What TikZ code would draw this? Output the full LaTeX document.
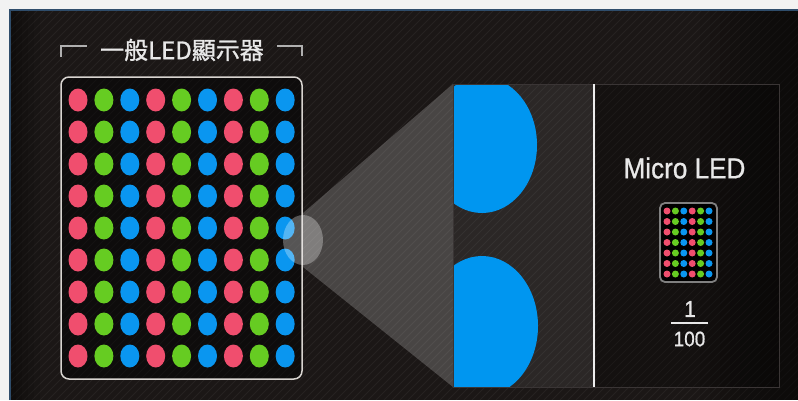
\documentclass[tikz,border=0pt]{standalone}
\usepackage{fontspec}
\setmainfont{Liberation Sans}
\newfontfamily\cjkfont[FakeBold=1.2]{Noto Sans CJK TC}
\newfontfamily\narrowfont[FakeStretch=0.9,FakeBold=0.8]{Liberation Sans}
\usetikzlibrary{shapes.geometric}
\definecolor{lightbg}{HTML}{F2F2F2}
\definecolor{panelbg}{HTML}{1B1716}
\definecolor{panelborder}{HTML}{2F4D6B}
\definecolor{titlecol}{HTML}{E8E8E8}
\definecolor{bracketcol}{HTML}{B0B0B0}
\definecolor{framecol}{HTML}{D8D4D0}
\definecolor{ledR}{HTML}{F04E6E}
\definecolor{ledG}{HTML}{66CC22}
\definecolor{ledB}{HTML}{0A96F0}
\definecolor{bigblue}{HTML}{0096F0}
\definecolor{smallframe}{HTML}{808080}
\definecolor{boxborder}{HTML}{3A3535}
\tikzset{
  stripe/.style={white, opacity=0.05, line width=0.8pt},
  bracket/.style={bracketcol, line width=1.5pt},
  bigdot/.style={ellipse, inner sep=0pt, minimum width=19pt, minimum height=23pt, draw=none},
  smalldot/.style={circle, inner sep=0pt, minimum size=7pt, draw=none},
  txt/.style={text=titlecol, inner sep=0pt},
}
\begin{document}
\begin{tikzpicture}[x=1pt,y=-1pt]
\useasboundingbox (0,0) rectangle (798,400);
\fill[lightbg] (0,0) rectangle (798,400);
\fill[panelbg] (10,10) rectangle (798,400);
% stripes
\begin{scope}
\clip (10,10) rectangle (798,400);
\foreach \i in {-400,-392,...,800} \draw[stripe] (\i,400) -- (\i+390,10);
% darker edges
\foreach \k in {0,...,9} \fill[black, opacity=0.06] (700+10*\k,10) rectangle (798,400);
\foreach \k in {0,...,4} \fill[black, opacity=0.08] (10,10) rectangle (40-6*\k,400);
\end{scope}
\draw[panelborder, line width=2pt] (10,400) -- (10,10) -- (798,10);

% title
\node[txt, font=\cjkfont\fontsize{24}{24}\selectfont] (title) at (182,50) {一般LED顯示器};
\draw[bracket] (61,57) -- (61,46) -- (87,46);
\draw[bracket] (277,46) -- (302,46) -- (302,56);

% LED panel
\draw[framecol, line width=1.5pt, fill=black, fill opacity=0.45, rounded corners=8pt] (61,77) rectangle (302,379);
\foreach \r in {0,...,8}
  \foreach \c/\col in {0/ledR,1/ledG,2/ledB,3/ledR,4/ledG,5/ledB,6/ledR,7/ledG,8/ledB}
    \node[bigdot, fill=\col] (d\r\c) at (78+25.9*\c,100+32*\r) {};

% magnifier cone and lens
\fill[white, opacity=0.2] (303,213) -- (453,84) -- (453,387) -- (303,267) -- cycle;
\node[ellipse, fill=white, opacity=0.3, minimum width=40pt, minimum height=50pt, inner sep=0pt] (lens) at (303,240) {};

% zoom box
\fill[white, opacity=0.07] (453,84) rectangle (593,387);
\begin{scope}
\clip (453,84) rectangle (593,387);
\fill[bigblue] (482,145) ellipse [x radius=55pt, y radius=68pt];
\fill[bigblue] (482,326) ellipse [x radius=56pt, y radius=70pt];
\end{scope}
\fill[black, opacity=0.25] (596,84) rectangle (779,387);
\draw[boxborder, line width=0.8pt] (453,84) rectangle (779,387);
\draw[white!93!black, line width=2.5pt] (594,84) -- (594,387);

% Micro LED
\node[txt, font=\narrowfont\fontsize{29}{29}\selectfont] (micro) at (684.5,168) {Micro LED};
\draw[smallframe, line width=1.8pt, fill=black, rounded corners=5pt] (660,203) rectangle (717,282);
\foreach \r in {0,...,6}
  \foreach \c/\col in {0/ledR,1/ledG,2/ledB,3/ledR,4/ledG,5/ledB}
    \node[smalldot, fill=\col] (s\r\c) at (667+8.4*\c,211+10.5*\r) {};
\node[txt, font=\narrowfont\fontsize{23}{23}\selectfont] (one) at (690,309) {1};
\draw[titlecol, line width=1.2pt] (671,323) -- (708,323);
\node[txt, font=\narrowfont\fontsize{21}{21}\selectfont] (hundred) at (689.5,339) {100};
\end{tikzpicture}
\end{document}
